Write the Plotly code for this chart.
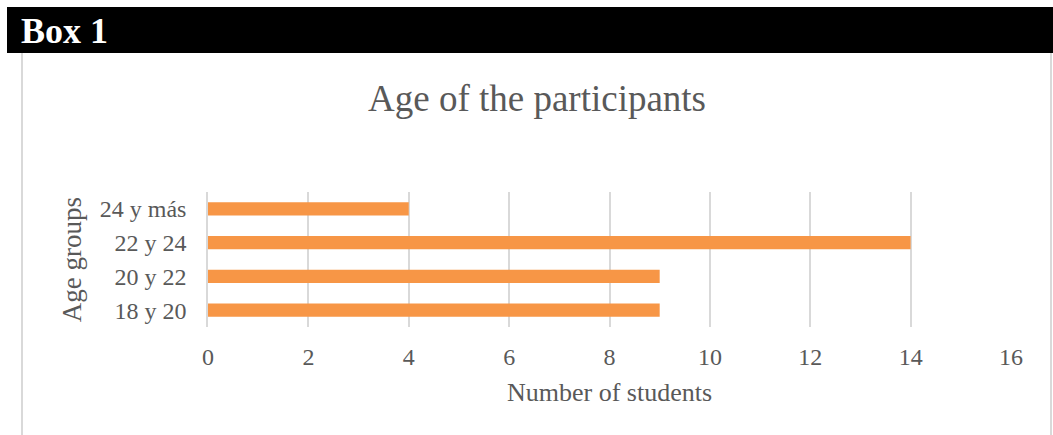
import plotly.graph_objects as go

categories = ["18 y 20", "20 y 22", "22 y 24", "24 y más"]
students = [9, 9, 14, 4]
x_ticks = [0, 2, 4, 6, 8, 10, 12, 14, 16]

W, H = 1053, 435
L, R, T, B = 208, 42, 192, 108
PW, PH = W - L - R, H - T - B
FONT = "Liberation Serif, Times New Roman, serif"
GRAY = "#595959"

fig = go.Figure(go.Bar(
    y=categories, x=students, orientation="h",
    marker=dict(color="#F79646", line=dict(width=0)),
    width=0.39,
))

fig.update_layout(
    width=W, height=H,
    margin=dict(l=L, r=R, t=T, b=B, pad=0),
    paper_bgcolor="white", plot_bgcolor="white",
    showlegend=False,
    font=dict(family=FONT, color=GRAY, size=24),
    title=dict(text="Age of the participants", x=537 / W, xanchor="center",
               y=1 - 98 / H, yanchor="middle",
               font=dict(family=FONT, size=37, color=GRAY)),
    xaxis=dict(range=[0, 16], tickvals=x_ticks, showgrid=True, gridcolor="#D9D9D9",
               gridwidth=1.5, zeroline=False, showline=False,
               ticks="outside", ticklen=8, tickcolor="rgba(0,0,0,0)",
               tickfont=dict(size=24, color=GRAY),
               title=dict(text="Number of students", standoff=14,
                          font=dict(size=26, color=GRAY))),
    yaxis=dict(categoryorder="array", categoryarray=categories,
               range=[-0.5, 3.5], showgrid=False, zeroline=False,
               showline=True, linecolor="#D9D9D9", linewidth=1.5,
               ticks="outside", ticklen=15, tickcolor="rgba(0,0,0,0)",
               tickfont=dict(size=24, color=GRAY),
               title=dict(text="Age groups", standoff=10,
                          font=dict(size=27, color=GRAY))),
    shapes=[
        dict(type="rect", xref="paper", yref="paper",
             x0=(7 - L) / PW, x1=(W - L) / PW,
             y0=1 + (T - 53) / PH, y1=1 + (T - 7) / PH,
             fillcolor="black", line=dict(width=0), layer="below"),
        dict(type="line", xref="paper", yref="paper",
             x0=(22 - L) / PW, x1=(22 - L) / PW,
             y0=-B / PH, y1=1 + (T - 53) / PH,
             line=dict(color="#D9D9D9", width=2)),
        dict(type="line", xref="paper", yref="paper",
             x0=(1051 - L) / PW, x1=(1051 - L) / PW,
             y0=-B / PH, y1=1 + (T - 53) / PH,
             line=dict(color="#D9D9D9", width=2)),
    ],
    annotations=[
        dict(text="<b>Box 1</b>", xref="paper", yref="paper",
             x=(19 - L) / PW, y=1 + (T - 31) / PH,
             xanchor="left", yanchor="middle", showarrow=False,
             font=dict(family=FONT, size=36, color="white")),
    ],
)

fig.write_html("out.html", config={"displayModeBar": False},
               post_script="document.body.style.margin='0';document.body.style.overflow='hidden';")
